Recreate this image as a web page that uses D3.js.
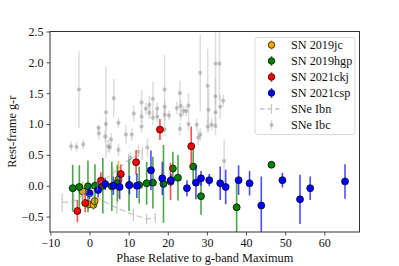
<!DOCTYPE html>
<html>
<head>
<meta charset="utf-8">
<script src="https://cdn.jsdelivr.net/npm/d3@7"></script>
<style>
  body { margin: 0; background: #fff; }
  text { font-family: "Liberation Serif", "DejaVu Serif", serif; fill: #111; }
</style>
</head>
<body>
<svg id="chart" width="399" height="266"></svg>
<script>
// ---- data (phase in days, g-r colour, 1-sigma error) ----
var ibcPhase = [-2.7, 4.2, 6.2, 4.2, 7.4, 2.3, 11.3, 13.3, 14.4, 15.3, 15.3, 13.3, 13.3, 16.2, 17.3, 17.3, 16.2,
  19.2, 19.2, 19.2, 20.3, 19.2, 22.3, 23.1, 23.3, 23.3, 24.0, 24.7, 25.3, 25.3, 23.1, 28.3, 27.4, 30.2, 30.4,
  30.2, 31.2, 32.2, 33.2, 32.2, 32.2, 32.2, 33.4, 34.2, 28.3, 34.4, 27.8,
  -4.7, -3.3, -1.6, 2.4, 4.0, 5.5, 4.8, 7.4, 9.3, 10.8, 5.2, 12.5, 14.8, 10.5];
var ibcColor = [1.56, 1.19, 1.42, 1.00, 1.02, 0.94, 1.17, 1.35, 1.25, 1.31, 1.18, 1.12, 0.96, 1.41, 1.25, 1.12, 1.10,
  1.56, 1.28, 1.15, 1.14, 0.91, 1.26, 1.50, 1.29, 1.15, 1.21, 1.21, 1.30, 1.00, 0.92, 1.83, 0.99, 1.62, 1.23,
  0.96, 0.99, 1.98, 1.98, 1.45, 1.19, 0.97, 1.28, 1.38, 0.83, 0.40, 0.78,
  0.64, 0.63, 0.67, 0.85, 0.80, 0.75, 0.64, 0.58, 0.83, 0.83, 0.62, 0.55, 0.62, 0.45];
var ibcErr = [0.62, 0.74, 0.31, 0.10, 0.08, 0.05, 0.13, 0.20, 0.10, 0.15, 0.10, 0.10, 0.10, 0.28, 0.10, 0.10, 0.12,
  0.56, 0.10, 0.10, 0.08, 0.10, 0.10, 0.20, 0.10, 0.10, 0.08, 0.08, 0.20, 0.10, 0.10, 0.62, 0.10, 0.60, 0.35,
  0.10, 0.10, 0.65, 0.60, 0.30, 0.20, 0.15, 0.20, 0.10, 0.10, 0.35, 0.12,
  0.08, 0.08, 0.08, 0.10, 0.10, 0.10, 0.10, 0.10, 0.15, 0.10, 0.08, 0.12, 0.15, 0.10];

var ibnLowPhase = [-7.0, -4.0, -1.7, 1.0, 7.0, 11.2, 14.6, 16.8];
var ibnLowColor = [-0.27, -0.26, -0.15, -0.17, -0.36, -0.47, -0.54, -0.52];
var ibnLowErr = [0.15, 0.15, 0.1, 0.1, 0.1, 0.1, 0.08, 0.08];
var ibnHighPhase = [-1.7, 2.0, 6.0, 10.0, 13.5];
var ibnHighColor = [-0.15, 0.02, 0.20, 0.42, 0.52];
var ibnHighErr = [0.1, 0.1, 0.1, 0.1, 0.1];

var jcPhase = [-1.8, -0.2, 1.0, 1.3, 2.8, 7.4];
var jcColor = [-0.09, -0.30, -0.31, -0.25, 0.06, 0.10];
var jcErr = [0.15, 0.08, 0.08, 0.08, 0.10, 0.30];

var hgpPhase = [-4.3, -2.6, -0.4, 1.4, 3.4, 5.7, 7.1, 10.1, 12.7, 14.6, 16.2, 18.9, 21.3, 22.6, 26.5, 28.5, 37.6, 46.5];
var hgpColor = [-0.04, -0.02, -0.01, 0.0, 0.0, -0.01, 0.04, 0.01, 0.01, 0.04, 0.05, 0.03, 0.28, 0.13, 0.31, -0.17, -0.35, 0.34];
var hgpErr = [0.38, 0.35, 0.42, 0.35, 0.45, 0.40, 0.30, 0.42, 0.30, 0.35, 0.42, 0.63, 0.27, 0.37, 0.28, 0.30, 0.40, 0.0];

var ckjPhase = [-3.1, -1.1, 2.9, 8.0, 11.9, 18.0, 20.7, 26.0];
var ckjColor = [-0.41, -0.28, 0.08, 0.19, 0.38, 0.91, 0.07, 0.64];
var ckjErr = [0.18, 0.15, 0.14, 0.15, 0.20, 0.17, 0.30, 0.32];

var cspPhase = [0.0, 2.2, 4.0, 6.1, 7.7, 10.2, 12.1, 15.7, 18.6, 20.8, 24.9, 27.2, 28.5, 30.6, 33.4, 34.8, 38.1, 40.9,
  43.9, 49.3, 53.8, 56.4, 65.3];
var cspColor = [-0.12, -0.07, 0.03, 0.0, -0.02, 0.01, 0.0, 0.25, 0.12, 0.09, -0.04, 0.05, 0.12, 0.09, 0.04, -0.02, 0.09, 0.04,
  -0.32, 0.09, -0.22, -0.04, 0.07];
var cspErr = [0.10, 0.12, 0.10, 0.15, 0.20, 0.15, 0.20, 0.32, 0.27, 0.10, 0.13, 0.27, 0.12, 0.10, 0.27, 0.28, 0.24, 0.20,
  0.47, 0.12, 0.40, 0.19, 0.28];

var xTicks = [-10, 0, 10, 20, 30, 40, 50, 60];
var yTicks = [-0.5, 0.0, 0.5, 1.0, 1.5, 2.0, 2.5];

var series = [
  { name: "SN 2019jc", color: "#ffa500", phase: jcPhase, val: jcColor, err: jcErr },
  { name: "SN 2019hgp", color: "#008000", phase: hgpPhase, val: hgpColor, err: hgpErr },
  { name: "SN 2021ckj", color: "#ff0000", phase: ckjPhase, val: ckjColor, err: ckjErr },
  { name: "SN 2021csp", color: "#0000ff", phase: cspPhase, val: cspColor, err: cspErr }
];

function rows(p, v, e) {
  return p.map(function(d, i) { return { x: d, y: v[i], e: e[i] }; });
}

// ---- layout ----
var margin = { left: 50, right: 39.5, top: 31.5, bottom: 34 };
var width = 399 - margin.left - margin.right;
var height = 266 - margin.top - margin.bottom;

var svg = d3.select("#chart");
var g = svg.append("g").attr("transform", "translate(" + margin.left + "," + margin.top + ")");

var x = d3.scaleLinear().domain([-10.1, 69.0]).range([0, width]);
var y = d3.scaleLinear().domain([-0.75, 2.5]).range([height, 0]);

svg.append("defs").append("clipPath").attr("id", "clip")
  .append("rect").attr("width", width).attr("height", height);

var plot = g.append("g").attr("clip-path", "url(#clip)");

// SNe Ibc background
var ibc = rows(ibcPhase, ibcColor, ibcErr);
plot.selectAll(".ibcbar").data(ibc).enter().append("line")
  .attr("x1", function(d) { return x(d.x); }).attr("x2", function(d) { return x(d.x); })
  .attr("y1", function(d) { return y(d.y - d.e); }).attr("y2", function(d) { return y(d.y + d.e); })
  .attr("stroke", "#bbb").attr("stroke-opacity", 0.5).attr("stroke-width", 1.5);
plot.selectAll(".ibcpt").data(ibc).enter().append("circle")
  .attr("cx", function(d) { return x(d.x); }).attr("cy", function(d) { return y(d.y); })
  .attr("r", 2.1).attr("fill", "#777").attr("fill-opacity", 0.4);

// coloured SNe
series.forEach(function(s) {
  var data = rows(s.phase, s.val, s.err);
  var sg = plot.append("g");
  sg.selectAll("line").data(data).enter().append("line")
    .attr("x1", function(d) { return x(d.x); }).attr("x2", function(d) { return x(d.x); })
    .attr("y1", function(d) { return y(d.y - d.e); }).attr("y2", function(d) { return y(d.y + d.e); })
    .attr("stroke", s.color).attr("stroke-opacity", 0.7).attr("stroke-width", 1.6);
  sg.selectAll("circle").data(data).enter().append("circle")
    .attr("cx", function(d) { return x(d.x); }).attr("cy", function(d) { return y(d.y); })
    .attr("r", 3.5).attr("fill", s.color).attr("stroke", "#000").attr("stroke-width", 0.7);
});

// SNe Ibn on top
var line = d3.line().x(function(d) { return x(d.x); }).y(function(d) { return y(d.y); });
[rows(ibnLowPhase, ibnLowColor, ibnLowErr), rows(ibnHighPhase, ibnHighColor, ibnHighErr)].forEach(function(data) {
  var ig = plot.append("g").attr("opacity", 0.55);
  ig.append("path").datum(data).attr("d", line)
    .attr("fill", "none").attr("stroke", "#999").attr("stroke-width", 1.3).attr("stroke-dasharray", "6,3");
  ig.selectAll("line").data(data).enter().append("line")
    .attr("x1", function(d) { return x(d.x); }).attr("x2", function(d) { return x(d.x); })
    .attr("y1", function(d) { return y(d.y - d.e); }).attr("y2", function(d) { return y(d.y + d.e); })
    .attr("stroke", "#999").attr("stroke-width", 1.2);
});

// axes
var xAxis = d3.axisBottom(x).tickValues(xTicks).tickSize(3.5).tickPadding(3)
  .tickFormat(function(d) { return d < 0 ? "\u2212" + Math.abs(d) : d; });
var yAxis = d3.axisLeft(y).tickValues(yTicks).tickSize(3.5).tickPadding(3)
  .tickFormat(function(d) { var s = d3.format(".1f")(Math.abs(d)); return d < 0 ? "\u2212" + s : s; });

var gx = g.append("g").attr("transform", "translate(0," + height + ")").call(xAxis);
var gy = g.append("g").call(yAxis);
[gx, gy].forEach(function(a) {
  a.select(".domain").remove();
  a.selectAll(".tick line").attr("stroke", "#222").attr("stroke-width", 0.8);
  a.selectAll(".tick text").attr("font-size", 12).attr("font-family", "Liberation Serif").attr("fill", "#111");
});

g.append("rect").attr("width", width).attr("height", height)
  .attr("fill", "none").attr("stroke", "#333").attr("stroke-width", 1);

svg.append("text").attr("x", margin.left + width / 2).attr("y", 262)
  .attr("text-anchor", "middle").attr("font-size", 12.3)
  .text("Phase Relative to g-band Maximum");
svg.append("text").attr("transform", "translate(16," + (margin.top + height / 2) + ") rotate(-90)")
  .attr("text-anchor", "middle").attr("font-size", 12.3)
  .text("Rest-frame g-r");

// legend
var leg = svg.append("g").attr("transform", "translate(255,37.5)");
leg.append("rect").attr("width", 100).attr("height", 97).attr("rx", 2.5)
  .attr("fill", "#fff").attr("fill-opacity", 0.85).attr("stroke", "#d0d0d0").attr("stroke-width", 0.8);
var rowY = function(i) { return 7.5 + i * 16; };
series.forEach(function(s, i) {
  var r = leg.append("g").attr("transform", "translate(16.5," + rowY(i) + ")");
  r.append("line").attr("y1", -5).attr("y2", 5).attr("stroke", s.color).attr("stroke-opacity", 0.7).attr("stroke-width", 1.6);
  r.append("circle").attr("r", 3.3).attr("fill", s.color).attr("stroke", "#000").attr("stroke-width", 0.7);
  leg.append("text").attr("x", 36).attr("y", rowY(i) + 4).attr("font-size", 12.2).text(s.name);
});
var rIbn = leg.append("g").attr("transform", "translate(16.5," + rowY(4) + ")").attr("opacity", 0.55);
rIbn.append("line").attr("x1", -11.5).attr("x2", 11.5).attr("stroke", "#999").attr("stroke-width", 1.3).attr("stroke-dasharray", "4.5,3");
rIbn.append("line").attr("y1", -5).attr("y2", 5).attr("stroke", "#999").attr("stroke-width", 1.2);
leg.append("text").attr("x", 36).attr("y", rowY(4) + 4).attr("font-size", 12.2).text("SNe Ibn");
var rIbc = leg.append("g").attr("transform", "translate(16.5," + rowY(5) + ")");
rIbc.append("line").attr("y1", -5).attr("y2", 5).attr("stroke", "#bbb").attr("stroke-opacity", 0.5).attr("stroke-width", 1.5);
rIbc.append("circle").attr("r", 2.1).attr("fill", "#777").attr("fill-opacity", 0.4);
leg.append("text").attr("x", 36).attr("y", rowY(5) + 4).attr("font-size", 12.2).text("SNe Ibc");
</script>
</body>
</html>
